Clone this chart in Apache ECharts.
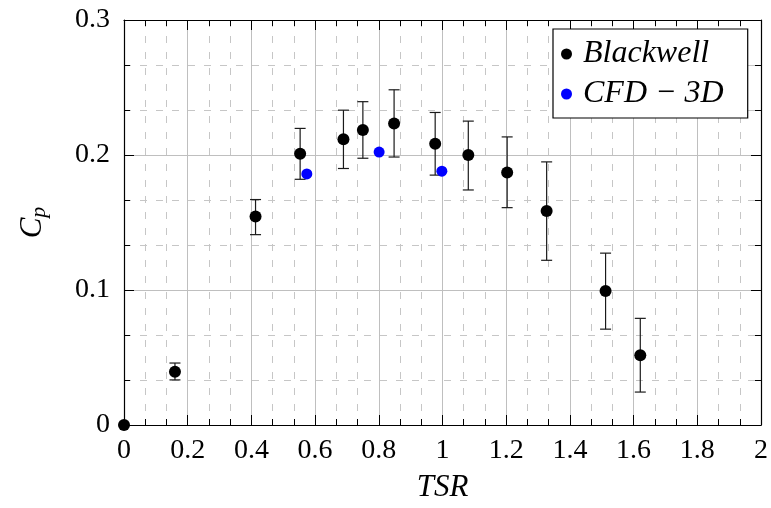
<!DOCTYPE html>
<html>
<head>
<meta charset="utf-8">
<script src="https://cdn.jsdelivr.net/npm/echarts@6/dist/echarts.min.js"></script>
<style>
  html, body { margin: 0; padding: 0; background: #fff; }
  #chart { width: 771px; height: 508px; }
</style>
</head>
<body>
<div id="chart"></div>
<script>
// Blackwell wind-tunnel measurements: tip speed ratio vs power coefficient
const tsrBlackwell = [0, 0.16, 0.413, 0.553, 0.689, 0.75, 0.848, 0.977, 1.081, 1.203, 1.327, 1.512, 1.621];
const cpBlackwell  = [0, 0.0395, 0.1544, 0.201, 0.2117, 0.2185, 0.2234, 0.2083, 0.2, 0.1871, 0.1585, 0.0993, 0.0517];
// Lower / upper ends of the measurement uncertainty (null = no bar)
const cpLow  = [null, 0.0334, 0.141, 0.182, 0.190, 0.1976, 0.1985, 0.1851, 0.1741, 0.161, 0.122, 0.071, 0.0244];
const cpHigh = [null, 0.0459, 0.167, 0.2197, 0.2332, 0.2395, 0.2483, 0.2315, 0.2251, 0.2134, 0.1949, 0.1273, 0.079];

// 3D CFD results
const tsrCfd = [0.574, 0.801, 0.998];
const cpCfd  = [0.186, 0.2022, 0.188];

// Axis ranges and tick spacing
const xTicks = { min: 0, max: 2, interval: 0.2 };
const yTicks = { min: 0, max: 0.3, interval: 0.1 };

const seriesNames = ['Blackwell', 'CFD \u2212 3D'];

const serif = 'Liberation Serif';
const gridColor = '#bfbfbf';
const minorColor = '#c6c6c6';

const blackwellPts = tsrBlackwell.map((x, i) => [x, cpBlackwell[i]]);
const cfdPts = tsrCfd.map((x, i) => [x, cpCfd[i]]);
const errPts = [];
tsrBlackwell.forEach((x, i) => {
  if (cpLow[i] != null && cpHigh[i] != null) errPts.push([x, cpLow[i], cpHigh[i]]);
});

// Unlabelled copies of the axes on the top and right close the frame with inward ticks
function frameAxis(base, pos) {
  return Object.assign({}, base, {
    position: pos,
    axisLine: { show: true, onZero: false, lineStyle: { color: '#000', width: 1.2 } },
    axisTick: { show: true, inside: true, length: 10, lineStyle: { color: '#000', width: 1 } },
    minorTick: { show: true, splitNumber: 3, length: 6, lineStyle: { color: '#000', width: 1 } },
    axisLabel: { show: false },
    splitLine: { show: false },
    minorSplitLine: { show: false }
  });
}

const xBase = { type: 'value', min: xTicks.min, max: xTicks.max, interval: xTicks.interval };
const yBase = { type: 'value', min: yTicks.min, max: yTicks.max, interval: yTicks.interval };

const chart = echarts.init(document.getElementById('chart'), null, { renderer: 'canvas' });

chart.setOption({
  animation: false,
  backgroundColor: '#fff',
  textStyle: { fontFamily: serif, color: '#000' },
  grid: { left: 124, top: 20, right: 7, bottom: 78, containLabel: false },
  xAxis: [
    Object.assign({}, xBase, {
      position: 'bottom',
      name: 'TSR',
      nameLocation: 'middle',
      nameGap: 47,
      nameTextStyle: { fontFamily: serif, fontStyle: 'italic', fontSize: 31, color: '#000' },
      axisLine: { show: true, onZero: false, lineStyle: { color: '#000', width: 1.2 } },
      axisTick: { show: true, inside: true, length: 10, lineStyle: { color: '#000', width: 1 } },
      minorTick: { show: true, splitNumber: 3, length: 6, lineStyle: { color: '#000', width: 1 } },
      axisLabel: { fontFamily: serif, fontSize: 28, color: '#000', margin: 12 },
      splitLine: { show: true, lineStyle: { color: gridColor, width: 1 } },
      minorSplitLine: { show: true, lineStyle: { color: minorColor, width: 1, type: [7, 9] } }
    }),
    frameAxis(xBase, 'top')
  ],
  yAxis: [
    Object.assign({}, yBase, {
      position: 'left',
      name: '{c|C}{p|p}',
      nameLocation: 'middle',
      nameRotate: 90,
      nameGap: 74,
      nameTextStyle: {
        color: '#000',
        rich: {
          c: { fontFamily: serif, fontStyle: 'italic', fontSize: 31, color: '#000', lineHeight: 34 },
          p: { fontFamily: serif, fontStyle: 'italic', fontSize: 22, color: '#000', lineHeight: 34, verticalAlign: 'bottom', padding: [12, 0, 0, 0] }
        }
      },
      axisLine: { show: true, onZero: false, lineStyle: { color: '#000', width: 1.2 } },
      axisTick: { show: true, inside: true, length: 10, lineStyle: { color: '#000', width: 1 } },
      minorTick: { show: true, splitNumber: 3, length: 6, lineStyle: { color: '#000', width: 1 } },
      axisLabel: { fontFamily: serif, fontSize: 28, color: '#000', margin: 14 },
      splitLine: { show: true, lineStyle: { color: gridColor, width: 1 } },
      minorSplitLine: { show: true, lineStyle: { color: minorColor, width: 1, type: [7, 9] } }
    }),
    frameAxis(yBase, 'right')
  ],
  legend: {
    data: seriesNames,
    orient: 'vertical',
    left: 553,
    top: 29,
    icon: 'circle',
    itemWidth: 11,
    itemHeight: 11,
    itemGap: 8,
    padding: [9, 24, 8, 8],
    backgroundColor: '#fff',
    borderColor: '#000',
    borderWidth: 1.2,
    borderRadius: 0,
    textStyle: { fontFamily: serif, fontStyle: 'italic', fontSize: 32, color: '#000', lineHeight: 30, padding: [0, 0, 0, 6] }
  },
  series: [
    {
      name: 'errorbars',
      type: 'custom',
      xAxisIndex: 0,
      yAxisIndex: 0,
      data: errPts,
      z: 2,
      silent: true,
      renderItem: function (params, api) {
        const x = api.value(0);
        const top = api.coord([x, api.value(2)]);
        const bot = api.coord([x, api.value(1)]);
        const half = 5.5;
        const style = { stroke: '#1a1a1a', lineWidth: 1.2 };
        return {
          type: 'group',
          children: [
            { type: 'line', shape: { x1: top[0], y1: top[1], x2: bot[0], y2: bot[1] }, style: style },
            { type: 'line', shape: { x1: top[0] - half, y1: top[1], x2: top[0] + half, y2: top[1] }, style: style },
            { type: 'line', shape: { x1: bot[0] - half, y1: bot[1], x2: bot[0] + half, y2: bot[1] }, style: style }
          ]
        };
      }
    },
    {
      name: seriesNames[0],
      type: 'scatter',
      data: blackwellPts,
      symbol: 'circle',
      symbolSize: 12,
      clip: false,
      z: 3,
      itemStyle: { color: '#000', opacity: 1 }
    },
    {
      name: seriesNames[1],
      type: 'scatter',
      data: cfdPts,
      symbol: 'circle',
      symbolSize: 11,
      clip: false,
      z: 4,
      itemStyle: { color: '#0000ff', opacity: 1 }
    }
  ]
});
</script>
</body>
</html>
